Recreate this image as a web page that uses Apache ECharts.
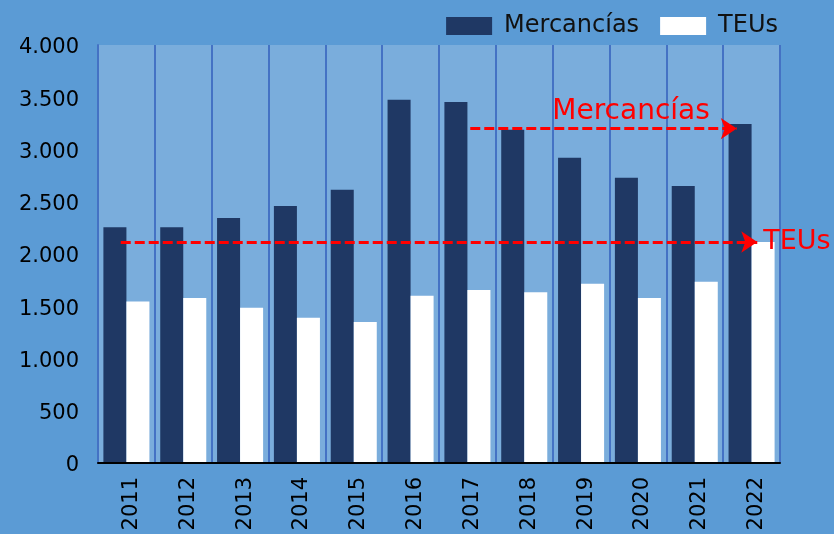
<!DOCTYPE html>
<html>
<head>
<meta charset="utf-8">
<script src="https://cdn.jsdelivr.net/npm/echarts@6/dist/echarts.min.js"></script>
<style>
    html, body { margin: 0; padding: 0; background: #5B9BD5; }
    #main { width: 834px; height: 534px; }
</style>
</head>
<body>
<div id="main"></div>
<script>
    // datos
    var years = ['2011','2012','2013','2014','2015','2016','2017','2018','2019','2020','2021','2022'];
    var mercancias = [2255, 2255, 2345, 2460, 2615, 3475, 3455, 3190, 2920, 2730, 2650, 3245];
    var teus = [1545, 1580, 1485, 1390, 1350, 1600, 1655, 1635, 1715, 1580, 1735, 2115];
    var yTicks = [0, 500, 1000, 1500, 2000, 2500, 3000, 3500, 4000];

    // flechas de tendencia (en unidades de categoria)
    var arrowMerc = { from: 6.05, to: 10.74, value: 3200 };
    var arrowTeus = { from: -0.1, to: 11.1, value: 2115 };

    var font = 'DejaVu Sans';
    var red = '#FF0000';

    function fmt(v) {
        return String(v).replace(/\B(?=(\d{3})+(?!\d))/g, '.');
    }

    var myChart = echarts.init(document.getElementById('main'));
    var option = {
        backgroundColor: '#5B9BD5',
        animation: false,
        textStyle: { fontFamily: font },
        legend: {
            data: ['Mercancías', 'TEUs'],
            right: 51,
            top: 9,
            itemWidth: 46,
            itemHeight: 18,
            itemGap: 21,
            icon: 'rect',
            textStyle: { fontFamily: font, fontSize: 24, color: '#111', padding: [0, 0, 0, 7] }
        },
        grid: {
            left: 98,
            right: 54,
            top: 45,
            bottom: 71,
            show: true,
            backgroundColor: '#7AADDC',
            borderWidth: 0
        },
        xAxis: [
            {
                type: 'category',
                data: years,
                z: 5,
                axisLine: { lineStyle: { color: '#000', width: 2 } },
                axisTick: { show: false },
                splitLine: { show: true, lineStyle: { color: '#4472C4', width: 2 } },
                axisLabel: {
                    rotate: 90,
                    margin: 14,
                    verticalAlign: 'top',
                    lineHeight: 10,
                    fontFamily: font,
                    fontSize: 21,
                    color: '#000'
                }
            },
            {
                type: 'value',
                min: -0.5,
                max: 11.5,
                show: false,
                axisLine: { show: false },
                axisTick: { show: false },
                axisLabel: { show: false },
                splitLine: { show: false }
            }
        ],
        yAxis: {
            type: 'value',
            min: yTicks[0],
            max: yTicks[yTicks.length - 1],
            interval: yTicks[1] - yTicks[0],
            axisLine: { show: true, onZero: false, lineStyle: { color: '#4472C4', width: 2 } },
            axisTick: { show: false },
            splitLine: { show: false },
            axisLabel: {
                margin: 19,
                verticalAlign: 'top',
                lineHeight: 6,
                fontFamily: font,
                fontSize: 21,
                color: '#000',
                formatter: function (v) { return fmt(v); }
            }
        },
        series: [
            {
                name: 'Mercancías',
                type: 'bar',
                data: mercancias,
                barGap: '0%',
                barCategoryGap: '19%',
                itemStyle: { color: '#1F3864' }
            },
            {
                name: 'TEUs',
                type: 'bar',
                data: teus,
                itemStyle: { color: '#FFFFFF' }
            },
            {
                name: 'flechas',
                type: 'scatter',
                xAxisIndex: 1,
                data: [],
                silent: true,
                markLine: {
                    silent: true,
                    symbol: ['none', 'arrow'],
                    symbolSize: 16,
                    lineStyle: { color: red, width: 3, type: [10, 4], opacity: 1 },
                    data: [
                        [
                            {
                                coord: [arrowMerc.from, arrowMerc.value],
                                label: {
                                    show: true,
                                    position: 'insideEndTop',
                                    formatter: 'Mercancías',
                                    color: red,
                                    fontFamily: font,
                                    fontSize: 28,
                                    distance: [27, 3]
                                }
                            },
                            { coord: [arrowMerc.to, arrowMerc.value] }
                        ],
                        [
                            {
                                coord: [arrowTeus.from, arrowTeus.value],
                                label: {
                                    show: true,
                                    position: 'end',
                                    formatter: 'TEUs',
                                    color: red,
                                    fontFamily: font,
                                    fontSize: 27,
                                    distance: 6
                                }
                            },
                            { coord: [arrowTeus.to, arrowTeus.value] }
                        ]
                    ]
                }
            }
        ]
    };
    myChart.setOption(option);
</script>
</body>
</html>
